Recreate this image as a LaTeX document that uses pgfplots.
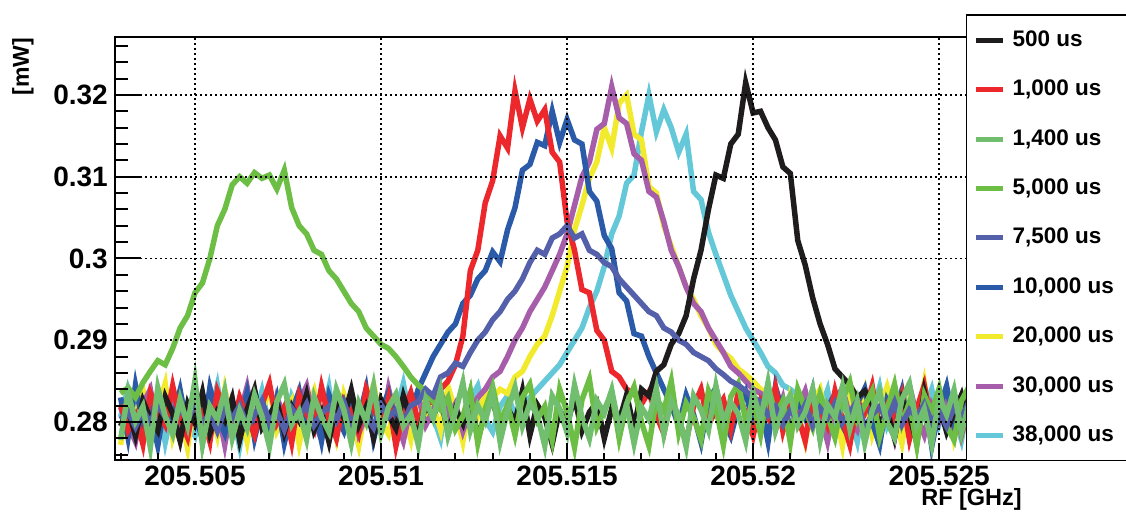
\documentclass[border=0pt]{standalone}
\usepackage{fontspec}
\setmainfont{Liberation Sans}
\usepackage{pgfplots}
\usepackage{pgfplotstable}
\pgfplotsset{compat=1.18}
\def\rfstrip 205.#1\relax{0.#1}
\definecolor{c500}{RGB}{30,28,28}
\definecolor{c1000}{RGB}{236,40,44}
\definecolor{c1400}{RGB}{112,190,110}
\definecolor{c5000}{RGB}{108,190,68}
\definecolor{c7500}{RGB}{85,96,170}
\definecolor{c10000}{RGB}{42,90,168}
\definecolor{c20000}{RGB}{242,234,44}
\definecolor{c30000}{RGB}{166,94,170}
\definecolor{c38000}{RGB}{100,200,216}
\pgfplotstableread{
x a b c d e f g h i
205.5030 0.2795 0.2821 0.2778 0.2835 0.2803 0.2830 0.2772 0.2818 0.2806
205.5032 0.2817 0.2790 0.2836 0.2842 0.2812 0.2781 0.2825 0.2797 0.2841
205.5034 0.2783 0.2808 0.2801 0.2830 0.2794 0.2845 0.2809 0.2776 0.2815
205.5036 0.2826 0.2773 0.2819 0.2848 0.2815 0.2798 0.2839 0.2822 0.2787
205.5038 0.2804 0.2835 0.2769 0.2862 0.2799 0.2812 0.2790 0.2840 0.2810
205.5040 0.2789 0.2812 0.2842 0.2875 0.2821 0.2771 0.2816 0.2793 0.2829
205.5042 0.2831 0.2796 0.2807 0.2870 0.2806 0.2826 0.2847 0.2809 0.2775
205.5044 0.2810 0.2844 0.2785 0.2890 0.2792 0.2803 0.2781 0.2827 0.2818
205.5046 0.2777 0.2803 0.2828 0.2915 0.2818 0.2839 0.2812 0.2780 0.2836
205.5048 0.2822 0.2781 0.2796 0.2930 0.2801 0.2790 0.2768 0.2815 0.2799
205.5050 0.2799 0.2827 0.2851 0.2958 0.2824 0.2813 0.2833 0.2802 0.2783
205.5052 0.2836 0.2809 0.2772 0.2970 0.2797 0.2778 0.2806 0.2834 0.2824
205.5054 0.2786 0.2776 0.2819 0.3000 0.2811 0.2842 0.2821 0.2788 0.2807
205.5056 0.2813 0.2838 0.2803 0.3040 0.2789 0.2807 0.2784 0.2819 0.2845
205.5058 0.2801 0.2815 0.2838 0.3060 0.2816 0.2786 0.2840 0.2772 0.2791
205.5060 0.2829 0.2792 0.2780 0.3090 0.2804 0.2824 0.2799 0.2826 0.2813
205.5062 0.2778 0.2830 0.2814 0.3100 0.2820 0.2801 0.2817 0.2809 0.2770
205.5064 0.2815 0.2806 0.2792 0.3092 0.2795 0.2836 0.2776 0.2843 0.2822
205.5066 0.2840 0.2784 0.2833 0.3105 0.2809 0.2780 0.2829 0.2795 0.2805
205.5068 0.2793 0.2821 0.2807 0.3098 0.2826 0.2818 0.2811 0.2817 0.2838
205.5070 0.2808 0.2847 0.2770 0.3102 0.2800 0.2795 0.2842 0.2782 0.2794
205.5072 0.2825 0.2799 0.2825 0.3085 0.2813 0.2829 0.2789 0.2830 0.2816
205.5074 0.2787 0.2818 0.2846 0.3108 0.2791 0.2774 0.2808 0.2806 0.2779
205.5076 0.2819 0.2775 0.2797 0.3062 0.2817 0.2812 0.2826 0.2791 0.2831
205.5078 0.2802 0.2833 0.2813 0.3040 0.2805 0.2838 0.2773 0.2824 0.2810
205.5080 0.2834 0.2810 0.2779 0.3030 0.2822 0.2793 0.2815 0.2844 0.2797
205.5082 0.2790 0.2791 0.2831 0.3010 0.2796 0.2820 0.2838 0.2801 0.2826
205.5084 0.2812 0.2843 0.2806 0.3005 0.2810 0.2777 0.2795 0.2779 0.2803
205.5086 0.2776 0.2804 0.2788 0.2985 0.2819 0.2833 0.2820 0.2820 0.2842
205.5088 0.2823 0.2780 0.2840 0.2975 0.2802 0.2808 0.2781 0.2797 0.2785
205.5090 0.2805 0.2826 0.2815 0.2960 0.2825 0.2789 0.2834 0.2813 0.2820
205.5092 0.2839 0.2812 0.2774 0.2945 0.2798 0.2827 0.2807 0.2835 0.2808
205.5094 0.2796 0.2787 0.2823 0.2935 0.2814 0.2804 0.2771 0.2786 0.2774
205.5096 0.2818 0.2840 0.2800 0.2915 0.2807 0.2841 0.2819 0.2808 0.2833
205.5098 0.2781 0.2816 0.2844 0.2905 0.2793 0.2779 0.2846 0.2825 0.2815
205.5100 0.2827 0.2793 0.2786 0.2895 0.2821 0.2815 0.2800 0.2792 0.2791
205.5102 0.2809 0.2829 0.2818 0.2890 0.2806 0.2836 0.2785 0.2841 0.2829
205.5104 0.2792 0.2771 0.2834 0.2880 0.2815 0.2798 0.2828 0.2803 0.2812
205.5106 0.2832 0.2813 0.2795 0.2868 0.2799 0.2822 0.2812 0.2777 0.2847
205.5108 0.2803 0.2836 0.2809 0.2855 0.2820 0.2810 0.2779 0.2819 0.2801
205.5110 0.2785 0.2800 0.2772 0.2845 0.2825 0.2840 0.2836 0.2831 0.2786
205.5112 0.2820 0.2822 0.2827 0.2838 0.2840 0.2860 0.2803 0.2796 0.2823
205.5114 0.2807 0.2825 0.2804 0.2825 0.2832 0.2880 0.2821 0.2814 0.2807
205.5116 0.2829 0.2840 0.2839 0.2815 0.2855 0.2895 0.2790 0.2838 0.2780
205.5118 0.2788 0.2850 0.2783 0.2830 0.2860 0.2910 0.2843 0.2805 0.2835
205.5120 0.2816 0.2870 0.2812 0.2791 0.2872 0.2920 0.2814 0.2822 0.2811
205.5122 0.2798 0.2905 0.2848 0.2807 0.2868 0.2945 0.2776 0.2789 0.2796
205.5124 0.2835 0.2985 0.2790 0.2838 0.2885 0.2955 0.2829 0.2816 0.2827
205.5126 0.2779 0.3010 0.2820 0.2774 0.2900 0.2975 0.2808 0.2830 0.2844
205.5128 0.2811 0.3068 0.2801 0.2816 0.2910 0.2985 0.2837 0.2840 0.2803
205.5130 0.2826 0.3095 0.2835 0.2843 0.2925 0.3008 0.2830 0.2855 0.2788
205.5132 0.2794 0.3150 0.2776 0.2799 0.2935 0.2996 0.2840 0.2862 0.2819
205.5134 0.2817 0.3135 0.2814 0.2821 0.2950 0.3035 0.2835 0.2880 0.2832
205.5136 0.2800 0.3205 0.2842 0.2784 0.2960 0.3062 0.2855 0.2900 0.2809
205.5138 0.2838 0.3160 0.2795 0.2830 0.2975 0.3108 0.2862 0.2915 0.2825
205.5140 0.2784 0.3195 0.2823 0.2846 0.2995 0.3115 0.2880 0.2935 0.2830
205.5142 0.2821 0.3168 0.2809 0.2803 0.3010 0.3142 0.2895 0.2950 0.2840
205.5144 0.2806 0.3182 0.2771 0.2819 0.3005 0.3138 0.2905 0.2965 0.2850
205.5146 0.2773 0.3130 0.2832 0.2778 0.3025 0.3180 0.2930 0.2985 0.2860
205.5148 0.2815 0.3118 0.2816 0.2840 0.3030 0.3142 0.2960 0.3005 0.2870
205.5150 0.2797 0.3045 0.2787 0.2812 0.3040 0.3170 0.2990 0.3030 0.2885
205.5152 0.2830 0.3010 0.2845 0.2769 0.3025 0.3145 0.3035 0.3065 0.2900
205.5154 0.2789 0.2962 0.2806 0.2827 0.3030 0.3140 0.3065 0.3100 0.2915
205.5156 0.2812 0.2958 0.2780 0.2852 0.3010 0.3082 0.3098 0.3118 0.2940
205.5158 0.2824 0.2912 0.2826 0.2794 0.3005 0.3070 0.3118 0.3158 0.2960
205.5160 0.2780 0.2900 0.2811 0.2815 0.2995 0.3028 0.3160 0.3165 0.2990
205.5162 0.2816 0.2862 0.2839 0.2836 0.2990 0.3012 0.3135 0.3210 0.3030
205.5164 0.2801 0.2855 0.2793 0.2780 0.2975 0.2958 0.3190 0.3172 0.3052
205.5166 0.2833 0.2840 0.2821 0.2822 0.2965 0.2948 0.3200 0.3165 0.3092
205.5168 0.2792 0.2835 0.2774 0.2843 0.2955 0.2908 0.3152 0.3128 0.3102
205.5170 0.2840 0.2822 0.2818 0.2800 0.2945 0.2905 0.3145 0.3120 0.3155
205.5172 0.2832 0.2837 0.2803 0.2771 0.2935 0.2880 0.3088 0.3082 0.3200
205.5174 0.2862 0.2808 0.2841 0.2829 0.2930 0.2860 0.3080 0.3075 0.3155
205.5176 0.2870 0.2786 0.2785 0.2814 0.2915 0.2840 0.3040 0.3045 0.3182
205.5178 0.2895 0.2829 0.2826 0.2850 0.2910 0.2821 0.3015 0.3010 0.3160
205.5180 0.2908 0.2803 0.2808 0.2787 0.2900 0.2795 0.2990 0.2990 0.3130
205.5182 0.2930 0.2776 0.2770 0.2823 0.2895 0.2833 0.2965 0.2965 0.3152
205.5184 0.2975 0.2819 0.2832 0.2806 0.2885 0.2809 0.2950 0.2945 0.3082
205.5186 0.3010 0.2840 0.2815 0.2779 0.2880 0.2775 0.2930 0.2935 0.3072
205.5188 0.3060 0.2797 0.2790 0.2838 0.2875 0.2826 0.2915 0.2915 0.3032
205.5190 0.3102 0.2814 0.2844 0.2817 0.2865 0.2842 0.2895 0.2900 0.3005
205.5192 0.3098 0.2828 0.2799 0.2772 0.2858 0.2804 0.2885 0.2885 0.2980
205.5194 0.3140 0.2791 0.2824 0.2831 0.2850 0.2783 0.2878 0.2868 0.2955
205.5196 0.3152 0.2836 0.2810 0.2847 0.2845 0.2818 0.2865 0.2860 0.2935
205.5198 0.3215 0.2810 0.2777 0.2802 0.2838 0.2837 0.2858 0.2850 0.2915
205.5200 0.3178 0.2783 0.2836 0.2824 0.2830 0.2799 0.2850 0.2840 0.2900
205.5202 0.3180 0.2825 0.2803 0.2785 0.2825 0.2821 0.2840 0.2835 0.2885
205.5204 0.3160 0.2806 0.2848 0.2844 0.2808 0.2776 0.2835 0.2825 0.2868
205.5206 0.3145 0.2842 0.2789 0.2809 0.2819 0.2843 0.2825 0.2803 0.2860
205.5208 0.3112 0.2789 0.2817 0.2826 0.2797 0.2812 0.2791 0.2829 0.2845
205.5210 0.3104 0.2822 0.2833 0.2775 0.2814 0.2790 0.2833 0.2786 0.2840
205.5212 0.3022 0.2808 0.2795 0.2840 0.2803 0.2828 0.2812 0.2817 0.2832
205.5214 0.2992 0.2777 0.2812 0.2816 0.2821 0.2805 0.2776 0.2838 0.2825
205.5216 0.2952 0.2831 0.2840 0.2793 0.2796 0.2839 0.2824 0.2799 0.2798
205.5218 0.2920 0.2815 0.2778 0.2834 0.2817 0.2781 0.2840 0.2811 0.2814
205.5220 0.2895 0.2795 0.2821 0.2808 0.2805 0.2818 0.2797 0.2776 0.2839
205.5222 0.2865 0.2838 0.2806 0.2781 0.2823 0.2834 0.2815 0.2824 0.2787
205.5224 0.2855 0.2803 0.2843 0.2827 0.2799 0.2796 0.2771 0.2842 0.2821
205.5226 0.2845 0.2772 0.2792 0.2849 0.2812 0.2778 0.2829 0.2805 0.2808
205.5228 0.2830 0.2826 0.2825 0.2803 0.2826 0.2823 0.2806 0.2790 0.2776
205.5230 0.2838 0.2812 0.2774 0.2820 0.2793 0.2841 0.2838 0.2819 0.2833
205.5232 0.2822 0.2844 0.2814 0.2838 0.2809 0.2800 0.2785 0.2833 0.2811
205.5234 0.2797 0.2790 0.2837 0.2782 0.2819 0.2772 0.2817 0.2797 0.2843
205.5236 0.2814 0.2819 0.2800 0.2815 0.2801 0.2827 0.2843 0.2815 0.2796
205.5238 0.2781 0.2801 0.2781 0.2846 0.2824 0.2810 0.2808 0.2780 0.2820
205.5240 0.2828 0.2833 0.2828 0.2798 0.2797 0.2839 0.2774 0.2828 0.2804
205.5242 0.2808 0.2779 0.2847 0.2824 0.2815 0.2787 0.2826 0.2845 0.2831
205.5244 0.2775 0.2816 0.2796 0.2771 0.2806 0.2816 0.2802 0.2807 0.2783
205.5246 0.2837 0.2845 0.2816 0.2833 0.2822 0.2833 0.2848 0.2784 0.2815
205.5248 0.2799 0.2799 0.2773 0.2812 0.2800 0.2770 0.2791 0.2821 0.2840
205.5250 0.2820 0.2823 0.2830 0.2841 0.2813 0.2815 0.2819 0.2802 0.2797
205.5252 0.2788 0.2806 0.2809 0.2795 0.2795 0.2844 0.2835 0.2836 0.2822
205.5254 0.2812 0.2830 0.2839 0.2778 0.2818 0.2798 0.2780 0.2789 0.2809
205.5256 0.2833 0.2785 0.2787 0.2826 0.2804 0.2820 0.2814 0.2815 0.2778
205.5258 0.2796 0.2818 0.2822 0.2843 0.2825 0.2806 0.2832 0.2830 0.2827
205.5260 0.2816 0.2841 0.2801 0.2805 0.2799 0.2782 0.2799 0.2801 0.2812
}\rfdata
\begin{document}
\begin{tikzpicture}
\useasboundingbox (0,0) rectangle (1126pt,512pt);
\begin{axis}[
  at={(115pt,52pt)}, anchor=south west,
  scale only axis, width=906pt, height=423pt,
  x coord trafo/.code={\edef\pgfmathresult{\rfstrip#1\relax}},
  xmin=205.50285, xmax=205.52720,
  ymin=0.27535, ymax=0.32709,
  xtick={205.505,205.51,205.515,205.52,205.525},
  xticklabels={205.505,205.51,205.515,205.52,205.525},
  minor xtick={205.503,205.504,205.506,205.507,205.508,205.509,205.511,205.512,205.513,205.514,205.516,205.517,205.518,205.519,205.521,205.522,205.523,205.524,205.526,205.527},
  ytick={0.28,0.29,0.3,0.31,0.32},
  yticklabels={0.28,0.29,0.3,0.31,0.32},
  minor ytick={0.276,0.278,0.282,0.284,0.286,0.288,0.292,0.294,0.296,0.298,0.302,0.304,0.306,0.308,0.312,0.314,0.316,0.318,0.322,0.324,0.326},
  tick pos=left, tick align=inside,
  major tick length=26pt, minor tick length=13pt,
  xtick style={/pgfplots/major tick length=15pt, /pgfplots/minor tick length=7pt},
  tick style={black, line width=2pt},
  axis line style={black, line width=2pt},
  grid=major,
  major grid style={black, line width=1.8pt, dash pattern=on 1.8pt off 3.2pt},
  axis on top,
  xticklabel style={font=\fontsize{28}{30}\selectfont\bfseries, inner sep=0pt, anchor=north, yshift=-6pt},
  yticklabel style={font=\fontsize{28}{30}\selectfont\bfseries, inner sep=0pt, anchor=east, xshift=-7pt},
  ylabel={[mW]},
  ylabel style={at={(axis description cs:-0.1015,0.998)}, anchor=east, inner sep=0pt, font=\fontsize{23}{25}\selectfont\bfseries},
  xlabel={RF [GHz]},
  xlabel style={at={(axis description cs:1.0011,-0.107)}, anchor=base east, inner sep=0pt, font=\fontsize{23.5}{25}\selectfont\bfseries},
  legend style={at={(0.9393,1.0532)}, anchor=north west, draw=black, line width=1.2pt, fill=white,
    inner xsep=7pt, inner ysep=15.2pt, row sep=29.4pt,
    font=\fontsize{22.5}{24}\selectfont\bfseries,
    nodes={inner sep=0pt, text height=16pt, text depth=4pt},
    /tikz/every odd column/.append style={column sep=7pt}},
  legend cell align=left,
  legend image code/.code={\draw[#1, line width=5pt] (0pt,0pt) -- (27pt,0pt);},
  every axis plot/.append style={forget plot},
]
\addplot[c38000, line width=5.5pt] table[x=x, y=i] {\rfdata};
\addplot[c20000, line width=5.5pt] table[x=x, y=g] {\rfdata};
\addplot[c30000, line width=5.5pt] table[x=x, y=h] {\rfdata};
\addplot[c10000, line width=5.5pt] table[x=x, y=f] {\rfdata};
\addplot[c1000, line width=5.5pt] table[x=x, y=b] {\rfdata};
\addplot[c500, line width=5.5pt] table[x=x, y=a] {\rfdata};
\addplot[c5000, line width=5.5pt] table[x=x, y=d] {\rfdata};
\addplot[c7500, line width=5.5pt] table[x=x, y=e] {\rfdata};
\addplot[c1400, line width=5.5pt] table[x=x, y=c] {\rfdata};
\addlegendimage{c500}\addlegendentry{\makebox[125pt][l]{500 us}}
\addlegendimage{c1000}\addlegendentry{1,000 us}
\addlegendimage{c1400}\addlegendentry{1,400 us}
\addlegendimage{c5000}\addlegendentry{5,000 us}
\addlegendimage{c7500}\addlegendentry{7,500 us}
\addlegendimage{c10000}\addlegendentry{10,000 us}
\addlegendimage{c20000}\addlegendentry{20,000 us}
\addlegendimage{c30000}\addlegendentry{30,000 us}
\addlegendimage{c38000}\addlegendentry{38,000 us}
\end{axis}
\end{tikzpicture}
\end{document}
